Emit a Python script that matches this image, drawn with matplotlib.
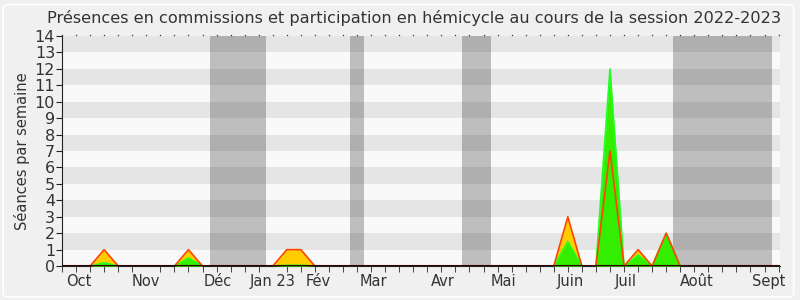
import matplotlib
matplotlib.use("Agg")
import matplotlib.pyplot as plt
from matplotlib.patches import FancyBboxPatch
import numpy as np

# weekly values, week 0 = end of september 2022
weeks = np.arange(52)
hemicycle = [0, 0, 0, 1, 0, 0, 0, 0, 0, 1,
             0, 0, 0, 0, 0, 0, 1, 1, 0, 0,
             0, 0, 0, 0, 0, 0, 0, 0, 0, 0,
             0, 0, 0, 0, 0, 0, 3, 0, 0, 7,
             0, 1, 0, 2, 0, 0, 0, 0, 0, 0,
             0, 0]
commissions = [0, 0, 0, 0.2, 0, 0, 0, 0, 0, 0.5,
               0, 0, 0, 0, 0, 0, 0.05, 0.05, 0, 0,
               0, 0, 0, 0, 0, 0, 0, 0, 0, 0,
               0, 0, 0, 0, 0, 0, 1.5, 0, 0, 12,
               0, 0.67, 0, 2, 0, 0, 0, 0, 0, 0,
               0, 0]

vacances = [(10.5, 14.5), (20.5, 21.5), (28.5, 30.5), (43.5, 50.5)]
mois = ["Oct", "Nov", "Déc", "Jan 23", "Fév", "Mar", "Avr", "Mai", "Juin", "Juil", "Août", "Sept"]
mois_pos = [1.2, 6.0, 11.1, 15.0, 18.2, 22.2, 27.1, 31.4, 36.2, 40.1, 45.2, 50.3]

fig = plt.figure(figsize=(8, 3), dpi=100)
fig.patch.set_facecolor("#f0f0f0")
fig.patches.append(FancyBboxPatch((0.004, 0.01), 0.988, 0.975, boxstyle="round,pad=0,rounding_size=0.01",
                                  transform=fig.transFigure, facecolor="none", edgecolor="white", lw=1.2))

ax = fig.add_axes([0.0775, 0.113, 0.8975, 0.767])
ax.set_xlim(0, 51.1)
ax.set_ylim(0, 14)

# alternating bands
for y in range(14):
    ax.axhspan(y, y + 1, color="#e5e5e5" if y % 2 else "#f9f9f9", lw=0, zorder=0)
for a, b in vacances:
    ax.axvspan(a, b, color="#111111", alpha=0.25, lw=0, zorder=1)

ax.fill_between(weeks, hemicycle, color="#ffcc00", lw=0, zorder=2)
ax.fill_between(weeks, commissions, color="#33ee00", lw=0, zorder=3)
ax.plot(weeks, commissions, color="#22ff22", lw=1.2, zorder=3)
ax.plot(weeks, hemicycle, color="#ff4400", lw=1.2, zorder=4)
ax.axhline(0, color="#330000", lw=1.5, zorder=5)

for s in ["top", "right"]:
    ax.spines[s].set_visible(False)
ax.spines["left"].set_color("#222222")
ax.spines["bottom"].set_color("#222222")

ax.set_yticks(range(15))
ax.set_xticks(weeks, minor=True)
ax.set_xticks(mois_pos)
ax.set_xticklabels(mois)
ax.tick_params(axis="x", which="major", length=0, labelsize=10.5, colors="#333333", pad=6)
ax.tick_params(axis="x", which="minor", length=4, color="#222222", direction="out")
ax.tick_params(axis="y", length=4, labelsize=11.5, color="#222222", labelcolor="#333333", pad=1)

# small marks along the top
ax.plot(weeks, np.full(len(weeks), 14.06), ls="none", marker="s", ms=0.9, mew=0, color="#333333", clip_on=False)

ax.set_ylabel("Séances par semaine", fontsize=10.5, color="#333333", labelpad=3)
fig.text(0.517, 0.925, "Présences en commissions et participation en hémicycle au cours de la session 2022-2023",
         fontsize=11.6, color="#333333", ha="center", va="baseline")

fig.savefig("out.png", dpi=100, facecolor=fig.get_facecolor())
